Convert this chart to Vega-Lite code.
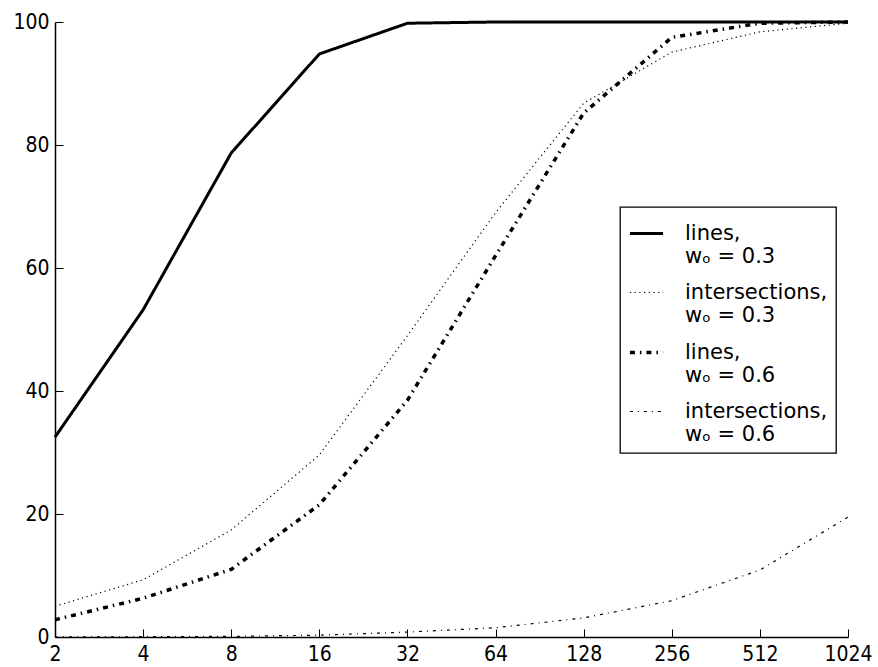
{
  "$schema": "https://vega.github.io/schema/vega-lite/v6.json",
  "width": 793,
  "height": 615,
  "autosize": {"type": "none"},
  "padding": {"left": 55, "top": 22, "right": 30, "bottom": 30},
  "background": "white",
  "config": {
    "view": {"stroke": null},
    "font": "DejaVu Sans",
    "axis": {
      "grid": false,
      "domainColor": "black",
      "domainWidth": 1.5,
      "tickColor": "black",
      "tickWidth": 1,
      "tickSize": -8,
      "labelColor": "black",
      "labelFont": "DejaVu Sans Condensed, DejaVu Sans",
      "labelFontSize": 21,
      "title": null
    },
    "legend": {
      "orient": "none",
      "legendX": 565,
      "legendY": 185,
      "labelFont": "DejaVu Sans",
      "labelFontSize": 21,
      "labelColor": "black",
      "labelLimit": 300,
      "symbolType": "stroke",
      "symbolSize": 1100,
      "symbolStrokeColor": "black",
      "rowPadding": 8,
      "padding": 8,
      "strokeColor": "black",
      "strokeWidth": 1.3,
      "fillColor": "white",
      "labelOffset": 20
    }
  },
  "data": {
    "values": [
      {"x": 2, "y": 32.5, "series": "lines,|wₒ = 0.3"},
      {"x": 4, "y": 53.2, "series": "lines,|wₒ = 0.3"},
      {"x": 8, "y": 78.7, "series": "lines,|wₒ = 0.3"},
      {"x": 16, "y": 94.8, "series": "lines,|wₒ = 0.3"},
      {"x": 32, "y": 99.8, "series": "lines,|wₒ = 0.3"},
      {"x": 64, "y": 100, "series": "lines,|wₒ = 0.3"},
      {"x": 128, "y": 100, "series": "lines,|wₒ = 0.3"},
      {"x": 256, "y": 100, "series": "lines,|wₒ = 0.3"},
      {"x": 512, "y": 100, "series": "lines,|wₒ = 0.3"},
      {"x": 1024, "y": 100, "series": "lines,|wₒ = 0.3"},

      {"x": 2, "y": 5.0, "series": "intersections,|wₒ = 0.3"},
      {"x": 4, "y": 9.3, "series": "intersections,|wₒ = 0.3"},
      {"x": 8, "y": 17.4, "series": "intersections,|wₒ = 0.3"},
      {"x": 16, "y": 29.6, "series": "intersections,|wₒ = 0.3"},
      {"x": 32, "y": 49.0, "series": "intersections,|wₒ = 0.3"},
      {"x": 64, "y": 69.0, "series": "intersections,|wₒ = 0.3"},
      {"x": 128, "y": 86.8, "series": "intersections,|wₒ = 0.3"},
      {"x": 256, "y": 95.1, "series": "intersections,|wₒ = 0.3"},
      {"x": 512, "y": 98.4, "series": "intersections,|wₒ = 0.3"},
      {"x": 1024, "y": 99.8, "series": "intersections,|wₒ = 0.3"},

      {"x": 2, "y": 2.8, "series": "lines,|wₒ = 0.6"},
      {"x": 4, "y": 6.3, "series": "lines,|wₒ = 0.6"},
      {"x": 8, "y": 11.0, "series": "lines,|wₒ = 0.6"},
      {"x": 16, "y": 21.5, "series": "lines,|wₒ = 0.6"},
      {"x": 32, "y": 38.5, "series": "lines,|wₒ = 0.6"},
      {"x": 64, "y": 62.0, "series": "lines,|wₒ = 0.6"},
      {"x": 128, "y": 85.2, "series": "lines,|wₒ = 0.6"},
      {"x": 256, "y": 97.5, "series": "lines,|wₒ = 0.6"},
      {"x": 512, "y": 99.8, "series": "lines,|wₒ = 0.6"},
      {"x": 1024, "y": 100, "series": "lines,|wₒ = 0.6"},

      {"x": 2, "y": 0.0, "series": "intersections,|wₒ = 0.6"},
      {"x": 4, "y": 0.05, "series": "intersections,|wₒ = 0.6"},
      {"x": 8, "y": 0.1, "series": "intersections,|wₒ = 0.6"},
      {"x": 16, "y": 0.3, "series": "intersections,|wₒ = 0.6"},
      {"x": 32, "y": 0.8, "series": "intersections,|wₒ = 0.6"},
      {"x": 64, "y": 1.5, "series": "intersections,|wₒ = 0.6"},
      {"x": 128, "y": 3.1, "series": "intersections,|wₒ = 0.6"},
      {"x": 256, "y": 5.9, "series": "intersections,|wₒ = 0.6"},
      {"x": 512, "y": 10.9, "series": "intersections,|wₒ = 0.6"},
      {"x": 1024, "y": 19.5, "series": "intersections,|wₒ = 0.6"}
    ]
  },
  "mark": {"type": "line", "color": "black", "clip": false},
  "encoding": {
    "x": {
      "field": "x",
      "type": "quantitative",
      "scale": {"type": "log", "base": 2, "domain": [2, 1024], "nice": false},
      "axis": {"values": [2, 4, 8, 16, 32, 64, 128, 256, 512, 1024], "format": "d", "labelPadding": 14, "labelFlush": false, "labelOverlap": false}
    },
    "y": {
      "field": "y",
      "type": "quantitative",
      "scale": {"domain": [0, 100], "nice": false, "zero": true},
      "axis": {"values": [0, 20, 40, 60, 80, 100], "labelPadding": 14, "labelFlush": false}
    },
    "strokeDash": {
      "field": "series",
      "type": "nominal",
      "scale": {
        "domain": ["lines,|wₒ = 0.3", "intersections,|wₒ = 0.3", "lines,|wₒ = 0.6", "intersections,|wₒ = 0.6"],
        "range": [[1, 0], [1.2, 3.5], [5, 5, 1.5, 5], [3, 5, 1, 5]]
      },
      "legend": {
        "title": null,
        "labelExpr": "split(datum.label, '|')"
      }
    },
    "strokeWidth": {
      "field": "series",
      "type": "nominal",
      "scale": {
        "type": "ordinal",
        "domain": ["lines,|wₒ = 0.3", "intersections,|wₒ = 0.3", "lines,|wₒ = 0.6", "intersections,|wₒ = 0.6"],
        "range": [3, 1.2, 3.5, 1.2]
      },
      "legend": {
        "title": null,
        "labelExpr": "split(datum.label, '|')"
      }
    }
  }
}
